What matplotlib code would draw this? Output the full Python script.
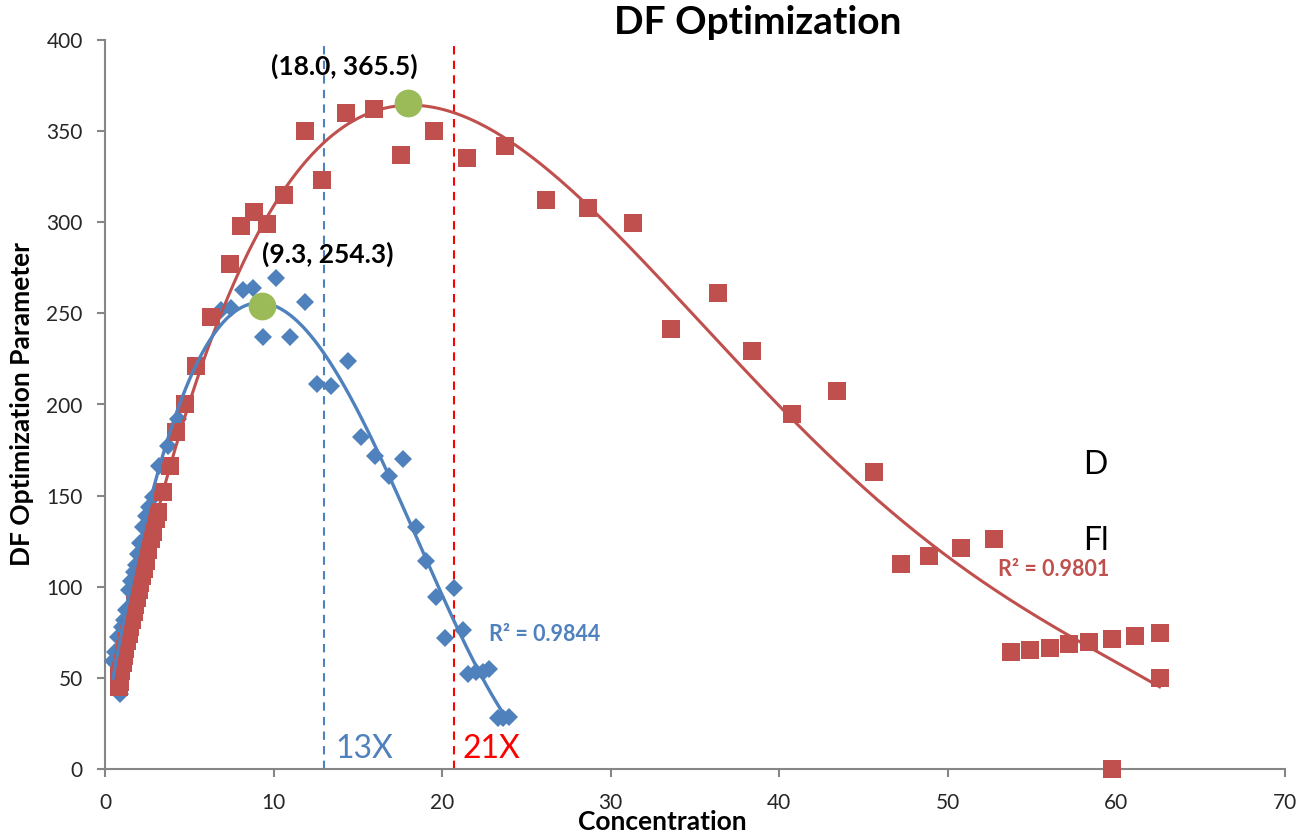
import numpy as np
import matplotlib
matplotlib.use("Agg")
import matplotlib.pyplot as plt

plt.rcParams['font.family'] = ['Lato', 'DejaVu Sans']

# ---------------- data ----------------
red_x = [0.82, 0.9, 0.86, 0.95, 1.05, 1.12, 1.2, 1.3, 1.4, 1.5, 1.6, 1.7, 1.8, 1.9,
         2.0, 2.1, 2.2, 2.3, 2.42, 2.55, 2.7, 2.85, 3.0, 3.14, 3.45, 3.84, 4.2,
         4.72, 5.42, 6.3, 7.39, 8.04, 8.82, 9.62, 10.6, 11.84, 12.9, 14.3, 15.95,
         17.57, 19.5, 21.5, 23.75, 26.17, 28.63, 31.3, 33.6, 36.34, 38.4, 40.75,
         43.4, 45.6, 47.2, 48.9, 50.77, 52.74, 53.77, 54.9, 56.04, 57.2, 58.4,
         59.75, 61.1, 62.56, 62.56, 59.75]
red_y = [45, 48, 51, 54, 58, 62, 66, 70, 74, 78, 82, 86, 90, 94,
         98, 102, 106, 110, 114, 120, 126, 130, 137, 141, 152, 166, 185,
         200, 221, 248, 277, 298, 305.5, 299, 315, 350, 323, 360, 362,
         337, 350, 335, 342, 312, 308, 299.5, 241.5, 261, 229.5, 194.6,
         207.4, 163, 112.5, 117, 121.4, 126, 64, 65.3, 66.6, 68.6, 69.9,
         71.2, 73, 74.8, 49.8, 0]

blue_x = [0.47, 0.6, 0.75, 0.87, 1.0, 1.11, 1.23, 1.42, 1.56, 1.7, 1.82, 1.95, 2.06,
          2.25, 2.45, 2.6, 2.85, 3.2, 3.74, 4.33, 6.9, 7.45, 8.18, 8.8, 10.16, 9.37,
          10.95, 11.84, 12.59, 13.42, 14.4, 15.2, 16.0, 16.83, 17.7, 18.42, 19.05,
          19.64, 20.14, 20.73, 21.22, 21.55, 22.0, 22.4, 22.8, 23.3, 23.6, 23.95]
blue_y = [59, 64, 72.6, 41, 78, 82, 87, 98, 103, 108, 112, 118, 124,
          133, 139, 144, 149, 166, 177, 192, 252, 253, 263, 264, 269.5, 237,
          237, 256, 211, 210, 224, 182, 172, 161, 170, 132.6, 114.3,
          94.2, 71.7, 99.2, 76.3, 52, 53, 53.4, 54.7, 28, 28, 28.7]

peak_x = [9.3, 18.0]
peak_y = [254.3, 365.5]
peak_labels = ["(9.3, 254.3)", "(18.0, 365.5)"]

r2_labels = ["R² = 0.9844", "R² = 0.9801"]
cutoff_x = [13.0, 20.7]
cutoff_labels = ["13X", "21X"]

BLUE = '#4F81BD'
RED = '#C0504D'
GREEN = '#9BBB59'
GREY = '#868686'

fig = plt.figure(figsize=(13.03, 8.38), dpi=100)
ax = fig.add_axes([105 / 1303, 1 - 769 / 838, (1285 - 105) / 1303, (769 - 40) / 838])

# trendlines (polynomial fits of the data)
bx = np.array(blue_x); by = np.array(blue_y)
rx = np.array(red_x); ry = np.array(red_y)
bc = np.polyfit(bx, by, 4)
rc = np.polyfit(rx, ry, 4)
bxx = np.linspace(bx.min(), bx.max(), 300)
rxx = np.linspace(rx.min(), rx.max(), 400)

ax.plot(bx, by, 'D', color=BLUE, markersize=9.5, markeredgewidth=0, clip_on=False, zorder=3)
ax.plot(rx, ry, 's', color=RED, markersize=13.5, markeredgewidth=0, clip_on=False, zorder=4)
ax.plot(rxx, np.polyval(rc, rxx), '-', color=RED, lw=2.2, zorder=5)
ax.plot(bxx, np.polyval(bc, bxx), '-', color=BLUE, lw=2.4, zorder=6)

ax.plot(peak_x, peak_y, 'o', color=GREEN, markersize=20, markeredgewidth=0, zorder=7)

# cutoff lines
ax.axvline(cutoff_x[0], color=BLUE, lw=1.5, ls=(0, (4, 3)), zorder=2)
ax.axvline(cutoff_x[1], color='#FF0000', lw=1.5, ls=(0, (4, 3)), zorder=2)
ax.text(cutoff_x[0] + 0.65, 6, cutoff_labels[0], color=BLUE, fontsize=23, ha='left', va='baseline')
ax.text(cutoff_x[1] + 0.5, 6, cutoff_labels[1], color='#FF0000', fontsize=23, ha='left', va='baseline')

# peak labels
ax.text(13.2, 278, peak_labels[0], fontsize=19, fontweight='bold', ha='center', va='baseline', color='#000000')
ax.text(14.2, 381, peak_labels[1], fontsize=19, fontweight='bold', ha='center', va='baseline', color='#000000')

# R^2 labels
ax.text(22.8, 70, r2_labels[0], fontsize=15.5, fontweight='bold', color=BLUE, ha='left', va='baseline')
ax.text(52.97, 106, r2_labels[1], fontsize=15.5, fontweight='bold', color=RED, ha='left', va='baseline')

ax.set_xlim(0, 70)
ax.set_ylim(0, 400)
ax.set_xticks(range(0, 71, 10))
ax.set_yticks(range(0, 401, 50))
for s in ['top', 'right']:
    ax.spines[s].set_visible(False)
for s in ['left', 'bottom']:
    ax.spines[s].set_color(GREY)
    ax.spines[s].set_linewidth(1.5)
ax.tick_params(direction='out', length=6, width=1.5, color=GREY, labelsize=15,
               labelcolor='#262626')
ax.tick_params(axis='y', pad=10)
ax.tick_params(axis='x', pad=11)

ax.set_xlabel('Concentration', fontsize=19, fontweight='bold')
ax.xaxis.set_label_coords((662 - 105) / 1180, (769 - 810) / 729)
ax.set_ylabel('DF Optimization Parameter', fontsize=19, fontweight='bold', labelpad=9)

fig.text(758 / 1303, 1 - 22 / 838, 'DF Optimization', fontsize=28, fontweight='bold',
         ha='center', va='center')
fig.text(1083 / 1303, 1 - 465 / 838, 'D', fontsize=23, ha='left', va='center')
fig.text(1083 / 1303, 1 - 541 / 838, 'Fl', fontsize=23, ha='left', va='center')

fig.savefig('out.png', dpi=100)
